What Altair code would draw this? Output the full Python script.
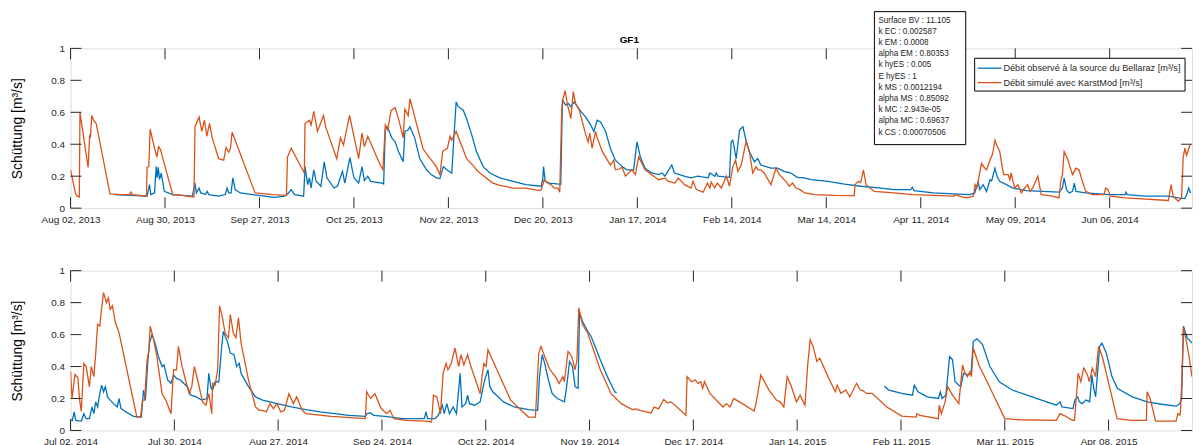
import altair as alt
import pandas as pd

BLUE = "#0072BD"
ORANGE = "#D95319"
AXC = "#262626"
FONT = "Liberation Sans"

# ---------------- data (days after panel start, discharge m3/s) ----------------
TOP_START = "2013-08-02"
TOP_END_DAYS = 332.4
BOT_START = "2014-07-02"
BOT_END_DAYS = 302.5

top_tick_dates = ["2013-08-02", "2013-08-30", "2013-09-27", "2013-10-25", "2013-11-22", "2013-12-20",
                  "2014-01-17", "2014-02-14", "2014-03-14", "2014-04-11", "2014-05-09", "2014-06-06"]
bot_tick_dates = ["2014-07-02", "2014-07-30", "2014-08-27", "2014-09-24", "2014-10-22", "2014-11-19",
                  "2014-12-17", "2015-01-14", "2015-02-11", "2015-03-11", "2015-04-08"]
y_tick_values = [0, 0.2, 0.4, 0.6, 0.8, 1]

top_sim_days = [0, 1.5, 2, 2.6, 2.8, 5.2, 5.7, 5.9, 6.3, 6.8, 7.6, 11.7, 15, 17.5, 17.9, 18.3, 22.5, 22.7, 23.2, 23.6,
                24.9, 25.6, 26.1, 26.7, 27.0, 30.3, 33, 36.6, 36.9, 38.1, 38.9, 39.7, 40.4, 41.2, 42, 43.9, 45.4, 46.1,
                46.9, 47.4, 47.9, 54.7, 60, 64, 64.3, 65.4, 69.3, 69.5, 70.8, 71.3, 72.1, 73.2, 75, 75.6, 78.9, 80,
                80.9, 82.7, 85.4, 86.4, 87.1, 88.1, 91.8, 92.6, 93.3, 94, 95, 96.2, 97.2, 98.6, 99.1, 100.1, 100.6,
                104.5, 108.4, 109.5, 110.3, 111, 111.7, 112.5, 113, 114.3, 117.4, 119.8, 120.3, 121.3, 125.2, 127.2,
                131.1, 135, 139, 139.5, 140.4, 141.4, 142.4, 143.4, 144.4, 145, 145.6, 146, 146.6, 147.3, 148.3, 149,
                149.7, 150.7, 152.7, 153.4, 153.9, 154.6, 155.6, 156.1, 157.6, 160, 161, 161.5, 162.5, 163.5, 164.5,
                166.4, 167.4, 168.4, 170.3, 174.3, 176.2, 177.2, 179.2, 180.1, 182, 183.9, 184.5, 185.5, 187.5, 188.8,
                189.5, 189.9, 190.9, 191.7, 192.9, 194.4, 195.3, 196.3, 197.1, 197.8, 198.8, 200.2, 201.2, 202.2,
                203.2, 203.7, 204.6, 205.6, 207.6, 209.1, 210.1, 212, 213, 214, 215, 216.2, 217.6, 220.6, 226.4,
                232.3, 232.5, 233.5, 234.2, 235, 235.8, 238.2, 244.1, 249.5, 255.8, 261.7, 262.6, 263.4, 265.6,
                267.6, 268.1, 268.6, 269, 270, 271, 271.5, 272.5, 273.3, 274, 274.5, 275.4, 276.2, 276.6, 277.9,
                278.4, 278.8, 279.8, 280.8, 281.8, 282.8, 283.7, 284.4, 285.2, 286.7, 287.7, 291, 293, 293.5, 294,
                294.5, 295.5, 296.5, 297, 297.5, 298, 298.9, 299.9, 300.9, 302.8, 306.3, 306.8, 307.5, 308.2, 312.6,
                325.4, 326.2, 326.8, 328.3, 329.3, 329.8, 330.3, 330.8, 331.8]
top_sim_vals = [0.24, 0.09, 0.075, 0.07, 0.6, 0.255, 0.46, 0.44, 0.58, 0.55, 0.53, 0.09, 0.085, 0.085, 0.1, 0.085,
                0.075, 0.255, 0.26, 0.495, 0.375, 0.32, 0.385, 0.365, 0.34, 0.085, 0.08, 0.07, 0.51, 0.57, 0.48, 0.55,
                0.45, 0.53, 0.44, 0.31, 0.30, 0.38, 0.35, 0.375, 0.475, 0.095, 0.085, 0.08, 0.32, 0.375, 0.22, 0.53,
                0.55, 0.52, 0.605, 0.48, 0.58, 0.51, 0.31, 0.44, 0.395, 0.58, 0.31, 0.47, 0.385, 0.45, 0.27, 0.24,
                0.52, 0.49, 0.61, 0.63, 0.56, 0.44, 0.62, 0.58, 0.685, 0.37, 0.26, 0.21, 0.355, 0.365, 0.375, 0.45,
                0.425, 0.48, 0.31, 0.255, 0.24, 0.22, 0.157, 0.143, 0.126, 0.126, 0.11, 0.115, 0.178, 0.157, 0.147,
                0.126, 0.126, 0.10, 0.62, 0.685, 0.735, 0.645, 0.56, 0.73, 0.655, 0.62, 0.46, 0.415, 0.47, 0.375, 0.48,
                0.44, 0.355, 0.27, 0.30, 0.24, 0.245, 0.255, 0.2, 0.24, 0.21, 0.32, 0.24, 0.178, 0.188, 0.168, 0.157,
                0.188, 0.147, 0.126, 0.168, 0.116, 0.10, 0.157, 0.126, 0.164, 0.126, 0.157, 0.126, 0.2, 0.137, 0.26,
                0.30, 0.23, 0.27, 0.415, 0.355, 0.22, 0.26, 0.24, 0.24, 0.22, 0.147, 0.25, 0.21, 0.168, 0.137, 0.157,
                0.126, 0.116, 0.095, 0.085, 0.08, 0.079, 0.147, 0.168, 0.16, 0.24, 0.147, 0.105, 0.095, 0.085, 0.08,
                0.075, 0.085, 0.075, 0.064, 0.075, 0.147, 0.126, 0.168, 0.28, 0.25, 0.24, 0.30, 0.34, 0.425, 0.395,
                0.355, 0.25, 0.21, 0.21, 0.178, 0.22, 0.126, 0.147, 0.095, 0.126, 0.147, 0.105, 0.126, 0.2, 0.085,
                0.075, 0.064, 0.168, 0.21, 0.355, 0.31, 0.24, 0.21, 0.23, 0.25, 0.24, 0.168, 0.105, 0.085, 0.085,
                0.126, 0.116, 0.075, 0.064, 0.048, 0.147, 0.075, 0.043, 0.064, 0.32, 0.375, 0.33, 0.395]

top_obs_days = [13, 22.5, 22.7, 23.4, 23.8, 24.9, 25.4, 25.7, 26, 26.4, 26.9, 27.8, 30.3, 36.1, 36.9, 37.3, 38.1,
                38.6, 40, 40.5, 41, 43.9, 45.9, 46.4, 46.9, 47.6, 48.1, 48.8, 50.3, 55.7, 60.5, 63.5, 64.6, 65.4,
                66.4, 69.1, 69.5, 70.3, 70.8, 71.3, 72.1, 72.8, 74.2, 75.2, 76, 78.1, 79.1, 80.6, 81.3, 82.8, 84,
                85.4, 86.4, 87.1, 88.1, 88.9, 92.3, 92.8, 93.3, 93.8, 94.5, 95.2, 96.2, 97.2, 98.6, 99.1, 100.1,
                100.6, 102, 103.5, 105.5, 106.9, 108.4, 109.5, 110.5, 111.5, 113, 113.8, 114.3, 114.9, 116.4, 117.4,
                118.9, 120.3, 122.3, 124.3, 127.2, 131.1, 135, 139.5, 140, 140.2, 140.7, 141.9, 144.8, 145.3, 145.8,
                146.8, 147.6, 148.3, 149.3, 150.7, 152.7, 154.2, 155.1, 156.1, 157.1, 158.6, 160, 161.5, 163.5,
                164.9, 166.9, 167.9, 168.9, 170.3, 172.3, 174.3, 175.3, 176.2, 178.2, 179, 181.9, 183.9, 185.9, 189,
                189.5, 191, 191.4, 191.9, 195.3, 195.8, 196.3, 197.3, 198.3, 199.3, 200.2, 201.2, 202.7, 203.7,
                204.6, 207.6, 209.5, 211.5, 213.5, 215.4, 217.4, 219.6, 224.5, 229.4, 234.3, 240.2, 244.1, 249,
                249.5, 250, 255.8, 261.7, 266.6, 268, 269, 269.5, 270.5, 271.5, 272.5, 273, 274, 274.6, 275.4, 277.4,
                279.3, 283.3, 288.2, 293, 294, 294.5, 295.2, 296, 297, 297.5, 298, 300.9, 307.7, 312.6, 312.8, 313.2,
                318.5, 325.4, 328.3, 330.3, 331, 331.4, 332]
top_obs_vals = [0.085, 0.075, 0.075, 0.147, 0.085, 0.095, 0.26, 0.19, 0.255, 0.178, 0.22, 0.105, 0.085, 0.075, 0.157,
                0.095, 0.126, 0.095, 0.085, 0.105, 0.085, 0.075, 0.085, 0.126, 0.095, 0.095, 0.19, 0.116, 0.095, 0.08,
                0.068, 0.075, 0.095, 0.116, 0.085, 0.075, 0.26, 0.147, 0.19, 0.126, 0.24, 0.168, 0.137, 0.29, 0.19,
                0.126, 0.137, 0.23, 0.157, 0.317, 0.19, 0.157, 0.26, 0.172, 0.2, 0.168, 0.157, 0.151, 0.49, 0.51,
                0.48, 0.44, 0.415, 0.355, 0.29, 0.48, 0.49, 0.51, 0.44, 0.31, 0.24, 0.21, 0.19, 0.185, 0.26, 0.24,
                0.22, 0.5, 0.665, 0.635, 0.613, 0.56, 0.46, 0.355, 0.26, 0.22, 0.19, 0.168, 0.147, 0.137, 0.19, 0.26,
                0.168, 0.157, 0.151, 0.15, 0.675, 0.645, 0.655, 0.635, 0.665, 0.62, 0.57, 0.52, 0.48, 0.55, 0.54,
                0.48, 0.375, 0.30, 0.26, 0.24, 0.24, 0.415, 0.32, 0.25, 0.22, 0.21, 0.22, 0.2, 0.27, 0.22, 0.2, 0.19,
                0.2, 0.19, 0.22, 0.2, 0.22, 0.2, 0.193, 0.415, 0.425, 0.31, 0.49, 0.51, 0.425, 0.355, 0.29, 0.31,
                0.27, 0.25, 0.25, 0.23, 0.22, 0.193, 0.19, 0.178, 0.168, 0.151, 0.137, 0.126, 0.116, 0.116, 0.13,
                0.11, 0.095, 0.089, 0.085, 0.095, 0.168, 0.116, 0.147, 0.105, 0.178, 0.17, 0.25, 0.2, 0.168, 0.147,
                0.126, 0.11, 0.105, 0.10, 0.126, 0.19, 0.116, 0.095, 0.105, 0.157, 0.105, 0.095, 0.085, 0.085, 0.1,
                0.085, 0.075, 0.075, 0.064, 0.06, 0.095, 0.126, 0.095]

bot_sim_days = [0, 0.4, 1.2, 2, 2.4, 2.9, 3.6, 4.2, 5.1, 5.6, 6.3, 6.8, 7.3, 7.9, 8.2, 8.9, 9.7, 10.2, 10.7, 11.3,
                12.1, 13.1, 17.9, 18.9, 19.4, 20, 20.6, 21.1, 21.5, 22.3, 23.3, 24.7, 25.7, 27.1, 27.8, 28.6, 29.1,
                30, 31, 32, 32.7, 33.4, 34.4, 35.6, 36.5, 37.3, 38.1, 38.3, 39, 39.7, 40.2, 40.9, 41.7, 42.6, 43.1,
                43.9, 44.6, 45.3, 46, 48, 49.9, 50.9, 51.8, 52.8, 53.8, 54.7, 55.7, 56.7, 57.7, 58.9, 60.1, 61, 62.5,
                63.5, 70.3, 79.5, 79.9, 80.9, 82.1, 83.8, 85.3, 86.2, 87.2, 90.6, 95.4, 97.4, 97.9, 98.8, 99.8, 100.5,
                101.3, 101.8, 102.7, 103.7, 104.7, 105.3, 106.1, 107.1, 108, 110.5, 111, 111.5, 112.1, 112.6, 113.4,
                118.7, 123.5, 125.4, 126.3, 126.9, 127.9, 129.3, 130.8, 131.8, 132.8, 133.2, 134.2, 135.2, 136.1,
                136.6, 137.1, 138.1, 139.5, 142.9, 145.8, 148.6, 151.6, 152.4, 153.6, 156.6, 157.4, 158.6, 160, 161,
                162, 166, 166.3, 167.5, 168.5, 169.3, 170, 170.5, 171, 172.5, 176, 176.9, 177.9, 178.9, 180.4, 184.4,
                184.9, 186.2, 188.4, 190.4, 191.4, 192.4, 193.3, 194.3, 195.8, 196.8, 198.1, 198.8, 199.5, 200.3,
                201.3, 202.1, 204.3, 206.3, 206.8, 207.8, 209.1, 210.2, 212, 213, 213.7, 214.7, 216.2, 220.2, 224.2,
                228.1, 228.3, 229.1, 234.1, 234.3, 234.9, 235.9, 236.6, 237.9, 239.6, 240.6, 241.3, 241.9, 242.6, 243,
                243.5, 245, 247, 252, 256, 265.9, 266.9, 267.9, 270.3, 270.8, 271.8, 272.5, 273.3, 274.3, 274.8,
                275.6, 276.5, 277.3, 278.3, 282.3, 286.2, 290.2, 290.4, 291.2, 292.7, 298.2, 298.7, 299.2, 299.4,
                299.7, 300.2, 300.9, 301.7, 302.5]
bot_sim_vals = [0.37, 0.2, 0.35, 0.33, 0.2, 0.12, 0.42, 0.4, 0.274, 0.4, 0.337, 0.484, 0.663, 0.653, 0.726, 0.863,
                0.8, 0.83, 0.758, 0.78, 0.674, 0.61, 0.084, 0.084, 0.19, 0.19, 0.43, 0.495, 0.653, 0.58, 0.463, 0.23,
                0.19, 0.105, 0.38, 0.38, 0.526, 0.41, 0.316, 0.23, 0.274, 0.4, 0.305, 0.18, 0.158, 0.23, 0.105,
                0.295, 0.284, 0.38, 0.78, 0.716, 0.61, 0.58, 0.726, 0.61, 0.58, 0.705, 0.547, 0.316, 0.147, 0.126,
                0.126, 0.116, 0.168, 0.137, 0.168, 0.116, 0.126, 0.23, 0.168, 0.21, 0.126, 0.105, 0.088, 0.074, 0.242,
                0.2, 0.23, 0.137, 0.105, 0.126, 0.074, 0.063, 0.059, 0.053, 0.22, 0.21, 0.105, 0.358, 0.42, 0.38,
                0.42, 0.516, 0.4, 0.474, 0.41, 0.474, 0.4, 0.23, 0.337, 0.42, 0.4, 0.505, 0.463, 0.19, 0.084, 0.084,
                0.484, 0.526, 0.463, 0.38, 0.337, 0.295, 0.337, 0.305, 0.495, 0.463, 0.38, 0.442, 0.768, 0.663, 0.61,
                0.38, 0.23, 0.168, 0.13, 0.135, 0.126, 0.11, 0.147, 0.135, 0.194, 0.173, 0.179, 0.095, 0.337, 0.305,
                0.316, 0.295, 0.305, 0.263, 0.305, 0.23, 0.147, 0.168, 0.147, 0.2, 0.179, 0.122, 0.168, 0.347, 0.253,
                0.19, 0.179, 0.147, 0.337, 0.284, 0.179, 0.221, 0.158, 0.4, 0.568, 0.526, 0.432, 0.453, 0.337, 0.242,
                0.284, 0.232, 0.253, 0.21, 0.295, 0.253, 0.25, 0.232, 0.232, 0.147, 0.09, 0.084, 0.105, 0.095, 0.074,
                0.158, 0.105, 0.179, 0.274, 0.221, 0.168, 0.41, 0.358, 0.337, 0.368, 0.337, 0.516, 0.41, 0.316, 0.074,
                0.067, 0.063, 0.105, 0.095, 0.063, 0.063, 0.358, 0.305, 0.39, 0.347, 0.305, 0.39, 0.337, 0.526, 0.463,
                0.074, 0.063, 0.063, 0.242, 0.2, 0.059, 0.059, 0.105, 0.095, 0.126, 0.284, 0.642, 0.568, 0.463, 0.337]

# observed series, first stretch (Jul - Nov 2014)
bot_obs_days_a = [0, 0.5, 1, 1.4, 2.9, 3.6, 4.2, 5.1, 5.8, 6.3, 6.8, 7.3, 7.9, 8.4, 8.9, 9.4, 10, 10.7, 11.6, 12.6,
                  13.1, 13.6, 15, 17, 19.1, 19.7, 20.2, 20.8, 21.3, 22, 22.8, 23.7, 24.7, 25.2, 26.2, 27.1, 27.8,
                  28.6, 29.6, 30.5, 31.5, 32.5, 33.9, 35.4, 36.8, 37.3, 37.8, 38.3, 39, 40, 40.7, 41.2, 41.7, 42.3,
                  43.1, 44.1, 44.8, 45.5, 46, 48, 49.9, 51.8, 53.8, 55.7, 59.6, 63.5, 67.3, 71.2, 75.1, 79.5, 80,
                  80.9, 81.8, 84.8, 89.6, 95.4, 95.9, 96.3, 98.3, 99.2, 100.3, 100.8, 101.5, 102.2, 103.2, 104.1,
                  105.1, 105.6, 106.6, 107.1, 107.6, 109, 110.5, 111.5, 112, 112.6, 113.1, 113.9, 116.8, 119.7, 123.5,
                  126, 126.5, 127.2, 127.9, 128.9, 129.9, 131.3, 133.2, 133.7, 134.6, 135.4, 136.1, 136.9, 137.3,
                  138.1, 139.5, 140.4, 142.9, 144.8, 146.8, 147.3]
bot_obs_vals_a = [0.07, 0.063, 0.116, 0.063, 0.059, 0.105, 0.074, 0.074, 0.147, 0.105, 0.179, 0.147, 0.232, 0.284,
                  0.242, 0.274, 0.21, 0.19, 0.168, 0.147, 0.2, 0.137, 0.116, 0.088, 0.084, 0.253, 0.19, 0.42, 0.547,
                  0.6, 0.547, 0.463, 0.4, 0.41, 0.316, 0.295, 0.347, 0.326, 0.316, 0.295, 0.274, 0.221, 0.21, 0.19,
                  0.2, 0.358, 0.274, 0.253, 0.305, 0.305, 0.505, 0.62, 0.59, 0.558, 0.484, 0.474, 0.4, 0.42, 0.358,
                  0.274, 0.21, 0.19, 0.179, 0.168, 0.147, 0.13, 0.116, 0.105, 0.095, 0.088, 0.105, 0.11, 0.095, 0.088,
                  0.074, 0.074, 0.116, 0.074, 0.074, 0.095, 0.158, 0.105, 0.168, 0.105, 0.147, 0.105, 0.358, 0.147,
                  0.168, 0.221, 0.168, 0.158, 0.179, 0.295, 0.337, 0.38, 0.274, 0.242, 0.179, 0.147, 0.13, 0.126,
                  0.337, 0.474, 0.42, 0.316, 0.232, 0.2, 0.179, 0.253, 0.432, 0.4, 0.274, 0.263, 0.737, 0.684, 0.621,
                  0.59, 0.442, 0.337, 0.242, 0.235]
# observed series, second stretch (Feb - Apr 2015)
bot_obs_days_b = [219.5, 220.7, 224.2, 227.1, 227.6, 228.6, 231.1, 234.1, 234.6, 235.1, 236.1, 236.6, 237.1, 237.9,
                  238.6, 240.1, 240.9, 242.1, 242.9, 243.5, 244.5, 246, 248, 250.5, 254, 258, 261.9, 265.9, 266.9,
                  267.4, 270.4, 270.9, 271.7, 272.1, 272.9, 273.9, 274.9, 275.5, 276, 276.5, 277.6, 278.2, 279.4,
                  280.9, 282.4, 286.4, 290.4, 294.3, 298.2, 299.2, 299.7, 300.2, 301.2, 302.5]
bot_obs_vals_b = [0.278, 0.253, 0.232, 0.221, 0.284, 0.242, 0.21, 0.2, 0.242, 0.2, 0.221, 0.337, 0.463, 0.442, 0.305,
                  0.274, 0.358, 0.347, 0.358, 0.558, 0.573, 0.537, 0.4, 0.305, 0.253, 0.221, 0.19, 0.158, 0.179,
                  0.147, 0.137, 0.19, 0.21, 0.179, 0.168, 0.19, 0.18, 0.347, 0.263, 0.21, 0.526, 0.547, 0.484, 0.337,
                  0.263, 0.21, 0.179, 0.164, 0.152, 0.168, 0.2, 0.653, 0.579, 0.547]

param_lines = ["Surface BV : 11.105", "k EC : 0.002587", "k EM : 0.0008", "alpha EM : 0.80353", "k hyES : 0.005",
               "E hyES : 1", "k MS : 0.0012194", "alpha MS : 0.85092", "k MC : 2.943e-05", "alpha MC : 0.69637",
               "k CS : 0.00070506"]
legend_labels = ["Débit observé à la source du Bellaraz [m³/s]", "Débit simulé avec KarstMod [m³/s]"]
panel_title = "GF1"
y_title = "Schüttung [m³/s]"

# ---------------- helpers ----------------
W = 1130
H = 161


def to_df(start, days, vals, seg=0):
    t0 = pd.Timestamp(start)
    ts = [(t0 + pd.Timedelta(days=d)).strftime("%Y-%m-%dT%H:%M:%S") for d in days]
    return pd.DataFrame({"t": ts, "q": vals, "seg": seg})


def dt(ts):
    ts = pd.Timestamp(ts)
    return alt.DateTime(year=ts.year, month=ts.month, date=ts.day, hours=ts.hour, minutes=ts.minute)


def panel(start, end_days, tick_dates, obs_df, sim_df):
    t0 = pd.Timestamp(start)
    t1 = t0 + pd.Timedelta(days=end_days)
    xs = alt.Scale(domain=[dt(t0), dt(t1)])
    ys = alt.Scale(domain=[0, 1], nice=False, zero=False)
    xaxis = alt.Axis(values=[dt(s) for s in tick_dates], format="%b %d, %Y", title=None,
                     ticks=False, domain=False, grid=False, labelPadding=6, labelFontSize=10,
                     labelColor=AXC, labelFont=FONT, labelOverlap=False, labelFlush=False)
    yaxis = alt.Axis(values=y_tick_values, format="~g", title=y_title, ticks=False, domain=False,
                     grid=False, labelPadding=6, labelFontSize=10, labelColor=AXC, labelFont=FONT,
                     titleFontSize=14, titleFontWeight="normal", titleColor="#000000", titleFont=FONT,
                     titleX=-53, titleY=H / 2, titleBaseline="middle", titleAlign="center")
    X = alt.X("t:T", scale=xs, axis=xaxis)
    Y = alt.Y("q:Q", scale=ys, axis=yaxis)
    obs = alt.Chart(obs_df).mark_line(color=BLUE, strokeWidth=1.3, clip=True).encode(
        x=X, y=Y, detail="seg:N")
    sim = alt.Chart(sim_df).mark_line(color=ORANGE, strokeWidth=1.3, clip=True).encode(x=X, y=Y)
    xt = pd.DataFrame({"t": [s + "T00:00:00" for s in tick_dates]})
    yt = pd.DataFrame({"q": y_tick_values})
    xb = alt.Chart(xt).mark_rule(color=AXC, strokeWidth=1).encode(
        x=X, y=alt.value(H - 11), y2=alt.value(H))
    xtop = alt.Chart(xt).mark_rule(color=AXC, strokeWidth=1).encode(
        x=X, y=alt.value(0), y2=alt.value(11))
    yl = alt.Chart(yt).mark_rule(color=AXC, strokeWidth=1).encode(
        y=Y, x=alt.value(0), x2=alt.value(11))
    yr = alt.Chart(yt).mark_rule(color=AXC, strokeWidth=1).encode(
        y=Y, x=alt.value(W - 11), x2=alt.value(W))
    return [obs, sim, xb, xtop, yl, yr]


top_obs = to_df(TOP_START, top_obs_days, top_obs_vals)
top_sim = to_df(TOP_START, top_sim_days, top_sim_vals)
bot_obs = pd.concat([to_df(BOT_START, bot_obs_days_a, bot_obs_vals_a, 0),
                     to_df(BOT_START, bot_obs_days_b, bot_obs_vals_b, 1)], ignore_index=True)
bot_sim = to_df(BOT_START, bot_sim_days, bot_sim_vals)

one = pd.DataFrame({"s": [panel_title]})
title_mark = alt.Chart(one).mark_text(fontSize=10, fontWeight="bold", font=FONT, color="#000000",
                                      baseline="middle").encode(
    text="s:N", x=alt.value(563), y=alt.value(-8))

pbox = alt.Chart(one).mark_rect(fill="white", stroke="#000000", strokeWidth=1).encode(
    x=alt.value(810), x2=alt.value(902), y=alt.value(-37), y2=alt.value(97))
ptext = alt.Chart(pd.DataFrame({"s": ["\n".join(param_lines)]})).mark_text(
    align="left", baseline="top", fontSize=8.2, font=FONT, color=AXC, lineBreak="\n", lineHeight=11.3).encode(
    text="s:N", x=alt.value(814), y=alt.value(-32))

lbox = alt.Chart(one).mark_rect(fill="white", stroke="#000000", strokeWidth=1).encode(
    x=alt.value(911), x2=alt.value(1123), y=alt.value(10), y2=alt.value(43))
lline1 = alt.Chart(one).mark_rule(color=BLUE, strokeWidth=1.3).encode(
    x=alt.value(914), x2=alt.value(938), y=alt.value(20))
lline2 = alt.Chart(one).mark_rule(color=ORANGE, strokeWidth=1.3).encode(
    x=alt.value(914), x2=alt.value(938), y=alt.value(34.5))
ltext1 = alt.Chart(pd.DataFrame({"s": [legend_labels[0]]})).mark_text(
    align="left", baseline="middle", fontSize=9.2, font=FONT, color=AXC).encode(
    text="s:N", x=alt.value(940), y=alt.value(20))
ltext2 = alt.Chart(pd.DataFrame({"s": [legend_labels[1]]})).mark_text(
    align="left", baseline="middle", fontSize=9.2, font=FONT, color=AXC).encode(
    text="s:N", x=alt.value(940), y=alt.value(34.5))

top = alt.layer(*panel(TOP_START, TOP_END_DAYS, top_tick_dates, top_obs, top_sim),
                title_mark, pbox, ptext, lbox, lline1, lline2, ltext1, ltext2).properties(width=W, height=H)
bot = alt.layer(*panel(BOT_START, BOT_END_DAYS, bot_tick_dates, bot_obs, bot_sim)).properties(width=W, height=H)

chart = alt.vconcat(top, bot, spacing=40).properties(
    padding={"left": 2, "top": 1, "right": 0, "bottom": 0}
).configure_view(stroke=AXC, strokeWidth=1).configure(font=FONT)

chart.save("out.html", embed_options={"renderer": "svg", "actions": False})
